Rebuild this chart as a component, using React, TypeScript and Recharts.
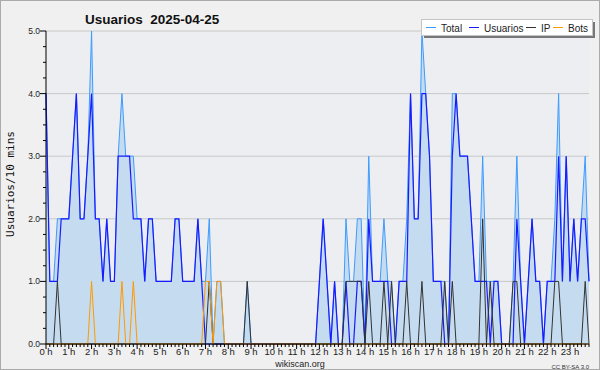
import React from 'react';
import { ComposedChart, Area, Line, XAxis, YAxis, CartesianGrid } from 'recharts';

// 10-minute buckets, one row per hour (6 values)
const hourLabels = [
  '0 h', '1 h', '2 h', '3 h', '4 h', '5 h', '6 h', '7 h', '8 h', '9 h', '10 h', '11 h',
  '12 h', '13 h', '14 h', '15 h', '16 h', '17 h', '18 h', '19 h', '20 h', '21 h', '22 h', '23 h',
];

const total = [
  4, 1, 1, 2, 2, 2,  2, 3, 4, 2, 2, 3,  5, 2, 2, 1, 2, 1,  1, 3, 4, 3, 3, 3,
  2, 2, 1, 2, 2, 1,  1, 1, 1, 1, 2, 2,  1, 1, 1, 1, 2, 1,  1, 2, 0, 1, 1, 0,
  0, 0, 0, 0, 0, 1,  0, 0, 0, 0, 0, 0,  0, 0, 0, 0, 0, 0,  0, 0, 0, 0, 0, 0,
  1, 2, 1, 0, 1, 0,  0, 2, 1, 1, 2, 2,  0, 3, 1, 1, 1, 2,  1, 1, 0, 1, 1, 2,
  4, 2, 2, 5, 4, 3,  1, 1, 1, 1, 0, 4,  4, 3, 3, 3, 2, 1,  1, 3, 1, 1, 1, 1,
  0, 0, 0, 1, 3, 1,  0, 1, 2, 1, 1, 0,  1, 1, 2, 4, 1, 3,  1, 2, 1, 2, 3, 1,
];

const usuarios = [
  4, 1, 1, 1, 2, 2,  2, 3, 4, 2, 2, 3,  4, 2, 2, 1, 2, 1,  1, 3, 3, 3, 3, 2,
  2, 2, 1, 2, 2, 1,  1, 1, 1, 1, 2, 2,  1, 1, 1, 1, 2, 1,  0, 0, 0, 0, 0, 0,
  0, 0, 0, 0, 0, 0,  0, 0, 0, 0, 0, 0,  0, 0, 0, 0, 0, 0,  0, 0, 0, 0, 0, 0,
  1, 2, 1, 0, 1, 0,  0, 1, 0, 0, 1, 1,  0, 2, 1, 1, 1, 1,  1, 0, 0, 1, 1, 1,
  4, 2, 2, 4, 4, 3,  1, 1, 1, 0, 0, 3,  4, 3, 3, 3, 2, 1,  1, 1, 1, 0, 1, 1,
  0, 0, 0, 0, 2, 1,  0, 1, 2, 1, 1, 0,  1, 1, 1, 3, 1, 3,  1, 2, 1, 2, 2, 1,
];

const ip = [
  0, 0, 0, 1, 0, 0,  0, 0, 0, 0, 0, 0,  0, 0, 0, 0, 0, 0,  0, 0, 0, 0, 0, 0,
  0, 0, 0, 0, 0, 0,  0, 0, 0, 0, 0, 0,  0, 0, 0, 0, 0, 0,  0, 1, 0, 0, 0, 0,
  0, 0, 0, 0, 0, 1,  0, 0, 0, 0, 0, 0,  0, 0, 0, 0, 0, 0,  0, 0, 0, 0, 0, 0,
  0, 0, 0, 0, 0, 0,  0, 1, 1, 1, 1, 1,  0, 1, 0, 0, 0, 1,  0, 1, 0, 0, 0, 1,
  0, 0, 0, 1, 0, 0,  0, 0, 0, 1, 0, 1,  0, 0, 0, 0, 0, 0,  0, 2, 0, 1, 0, 0,
  0, 0, 0, 1, 1, 0,  0, 0, 0, 0, 0, 0,  0, 0, 1, 1, 0, 0,  0, 0, 0, 0, 1, 0,
];

const bots = [
  0, 0, 0, 0, 0, 0,  0, 0, 0, 0, 0, 0,  1, 0, 0, 0, 0, 0,  0, 0, 1, 0, 0, 1,
  0, 0, 0, 0, 0, 0,  0, 0, 0, 0, 0, 0,  0, 0, 0, 0, 0, 0,  1, 1, 0, 1, 1, 0,
  0, 0, 0, 0, 0, 0,  0, 0, 0, 0, 0, 0,  0, 0, 0, 0, 0, 0,  0, 0, 0, 0, 0, 0,
  0, 0, 0, 0, 0, 0,  0, 0, 0, 0, 0, 0,  0, 0, 0, 0, 0, 0,  0, 0, 0, 0, 0, 0,
  0, 0, 0, 0, 0, 0,  0, 0, 0, 0, 0, 0,  0, 0, 0, 0, 0, 0,  0, 0, 0, 0, 0, 0,
  0, 0, 0, 0, 0, 0,  0, 0, 0, 0, 0, 0,  0, 0, 0, 0, 0, 0,  0, 0, 0, 0, 0, 0,
];

const yLabels = ['0.0', '1.0', '2.0', '3.0', '4.0', '5.0'];

const data = total.map((t, i) => ({ i, total: t, usuarios: usuarios[i], ip: ip[i], bots: bots[i] }));
const xTicks = data.map((d) => d.i);
const yTicks = Array.from({ length: 21 }, (_, k) => k * 0.25);

const font = "'Liberation Sans', Arial, sans-serif";

const XTick = ({ x, y, payload }: any) => {
  const v = payload.value;
  const major = v % 6 === 0;
  return (
    <g>
      <line x1={x} x2={x} y1={y} y2={y + (major ? 5 : 3)} stroke="#000" strokeWidth={1} />
      {major && (
        <text x={x} y={y + 11} textAnchor="middle" fontSize={9.5} fontFamily={font} fill="#222">
          {hourLabels[v / 6]}
        </text>
      )}
    </g>
  );
};

const YTick = ({ x, y, payload }: any) => {
  const v = payload.value;
  const major = Number.isInteger(v);
  return (
    <g>
      <line x1={x - (major ? 6 : 3)} x2={x} y1={y} y2={y} stroke="#000" strokeWidth={1} />
      {major && (
        <text x={x - 6} y={y + 3} textAnchor="end" fontSize={8.5} fontFamily={font} fill="#222">
          {yLabels[v]}
        </text>
      )}
    </g>
  );
};

const legendItems = [
  { name: 'Total', color: '#3d9bff', x: 426 },
  { name: 'Usuarios', color: '#1a1aff', x: 469 },
  { name: 'IP', color: '#333333', x: 526 },
  { name: 'Bots', color: '#ff9900', x: 553 },
];

export default function App() {
  return (
    <div
      style={{
        position: 'fixed', left: 0, top: 0, width: 600, height: 370, boxSizing: 'border-box',
        background: '#f0f0f0', border: '1px solid #aaaaaa', overflow: 'hidden',
      }}
    >
      <div style={{ position: 'absolute', left: -1, top: -1 }}>
        <ComposedChart width={600} height={370} data={data} margin={{ top: 31, right: 11, left: 0, bottom: 0 }}>
          <CartesianGrid horizontal vertical={false} fill="#eceef1" stroke="#c8c8c8" horizontalValues={[1, 2, 3, 4, 5]} />
          <XAxis
            type="number"
            dataKey="i"
            domain={[0, 143]}
            ticks={xTicks}
            interval={0}
            height={26}
            tickSize={0}
            tickMargin={0}
            tick={<XTick />}
            axisLine={{ stroke: '#000' }}
          />
          <YAxis
            type="number"
            domain={[0, 5]}
            ticks={yTicks}
            interval={0}
            width={46}
            tickSize={0}
            tickMargin={0}
            tick={<YTick />}
            axisLine={{ stroke: '#000' }}
          />
          <Area type="linear" dataKey="total" stroke="#3d9bff" strokeWidth={1} fill="#c5dcf0" fillOpacity={1} isAnimationActive={false} dot={false} activeDot={false} />
          <Line type="linear" dataKey="usuarios" stroke="#1a1aff" strokeWidth={1.2} dot={false} activeDot={false} isAnimationActive={false} />
          <Line type="linear" dataKey="ip" stroke="#333333" strokeWidth={1} dot={false} activeDot={false} isAnimationActive={false} />
          <Line type="linear" dataKey="bots" stroke="#ff9900" strokeWidth={1} dot={false} activeDot={false} isAnimationActive={false} />
        </ComposedChart>
      </div>

      <svg width={600} height={370} style={{ position: 'absolute', left: -1, top: -1, pointerEvents: 'none' }}>
        <text x={85} y={24} fontFamily={font} fontWeight="bold" fontSize={13.5} fill="#111" style={{ whiteSpace: 'pre' }}>
          {'Usuarios  2025-04-25'}
        </text>
        <text
          transform="translate(14,184) rotate(-90)"
          textAnchor="middle"
          fontFamily="'DejaVu Sans Mono', monospace"
          fontSize={11}
          fill="#111"
        >
          Usuarios/10 mins
        </text>

        <rect x={424} y={22} width={171} height={16} fill="#777777" />
        <rect x={421.5} y={19.5} width={171} height={16} fill="#ffffff" stroke="#c4c4c4" />
        {legendItems.map((it) => (
          <g key={it.name}>
            <line x1={it.x} x2={it.x + 10} y1={27.5} y2={27.5} stroke={it.color} strokeWidth={1} />
            <text x={it.x + 15} y={31.5} fontFamily={font} fontSize={10} fill="#222">
              {it.name}
            </text>
          </g>
        ))}

        <text x={300} y={367} textAnchor="middle" fontFamily={font} fontSize={9} fill="#222">
          wikiscan.org
        </text>
        <text x={589} y={368.5} textAnchor="end" fontFamily={font} fontSize={6} fill="#333">
          CC BY-SA 3.0
        </text>
      </svg>
    </div>
  );
}
